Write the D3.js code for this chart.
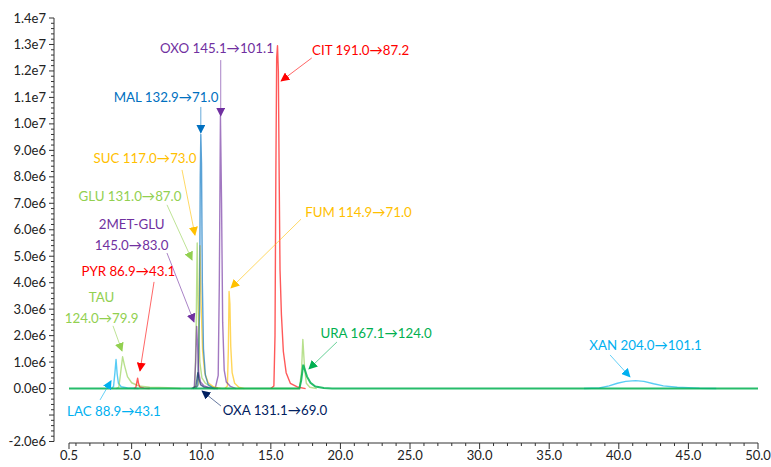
<!DOCTYPE html>
<html><head><meta charset="utf-8">
<script src="https://cdn.jsdelivr.net/npm/d3@7"></script>
<style>body{margin:0;background:#fff}svg{display:block}</style>
</head><body><svg id="c" width="771" height="467"></svg>
<script>
// ---- data: [retention time (min), intensity] ----
const lacData = [[3.55,0],[3.7,0.08e6],[3.8,0.6e6],[3.88,1.1e6],[3.96,0.55e6],[4.05,0.2e6],[4.25,0.07e6],[4.7,0.02e6],[5.5,0]];
const xanData = [[37.5,0],[38.6,0.02e6],[39.3,0.1e6],[39.9,0.2e6],[40.5,0.27e6],[41.2,0.3e6],[41.8,0.27e6],[42.5,0.18e6],[43.2,0.1e6],[44.2,0.05e6],[45.8,0.01e6],[47,0]];
const tauData = [[3.9,0],[4.08,0.05e6],[4.2,0.55e6],[4.35,1.2e6],[4.5,0.85e6],[4.7,0.45e6],[5.0,0.22e6],[5.5,0.1e6],[6.3,0.05e6],[7.6,0.03e6],[8.5,0]];
const pyrData = [[5.15,0],[5.3,0.04e6],[5.38,0.25e6],[5.43,0.39e6],[5.5,0.18e6],[5.6,0.05e6],[5.9,0.01e6],[6.3,0]];
const metData = [[9.3,0],[9.5,0.05e6],[9.6,1.0e6],[9.67,2.35e6],[9.74,1.6e6],[9.82,0.6e6],[9.95,0.25e6],[10.2,0.1e6],[10.6,0.03e6],[11,0]];
const oxaData = [[9.4,0],[9.62,0.08e6],[9.7,0.4e6],[9.76,0.6e6],[9.84,0.35e6],[9.95,0.15e6],[10.2,0.05e6],[10.7,0.01e6],[11.2,0]];
const gluData = [[9.35,0],[9.55,0.1e6],[9.64,2.5e6],[9.71,5.5e6],[9.78,3e6],[9.9,1e6],[10.05,0.4e6],[10.3,0.2e6],[10.6,0.1e6],[11,0.03e6],[11.5,0],[17.05,0],[17.2,0.6e6],[17.3,1.86e6],[17.42,0.8e6],[17.55,0.2e6],[17.8,0.05e6],[18.3,0]];
const sucData = [[9.55,0],[9.78,0.15e6],[9.85,3e6],[9.91,5.4e6],[9.99,3.2e6],[10.1,1.4e6],[10.25,0.6e6],[10.5,0.22e6],[10.9,0.06e6],[11.4,0]];
const malData = [[9.6,0],[9.75,0.1e6],[9.88,3e6],[9.93,8e6],[9.97,9.6e6],[10.02,8.5e6],[10.08,4e6],[10.16,1.5e6],[10.3,0.5e6],[10.5,0.15e6],[10.9,0]];
const oxoData = [[11.0,0],[11.22,0.5e6],[11.3,4e6],[11.38,10.3e6],[11.46,7e6],[11.54,2.5e6],[11.65,0.7e6],[11.8,0.25e6],[12.1,0.08e6],[12.5,0]];
const fumData = [[11.7,0],[11.88,0.1e6],[11.95,1.5e6],[12.0,3.67e6],[12.06,3.2e6],[12.12,1.6e6],[12.22,0.6e6],[12.4,0.2e6],[12.7,0.05e6],[13.1,0]];
const citData = [[15.0,0],[15.22,0.1e6],[15.3,2e6],[15.36,8e6],[15.42,12.5e6],[15.48,12.95e6],[15.54,12e6],[15.6,8e6],[15.66,4.5e6],[15.76,2.8e6],[15.9,1.4e6],[16.1,0.6e6],[16.4,0.2e6],[16.9,0.06e6],[17.5,0]];
const uraData = [[0.5,0],[17.05,0],[17.18,0.3e6],[17.33,0.9e6],[17.45,0.7e6],[17.6,0.45e6],[17.85,0.22e6],[18.2,0.08e6],[18.8,0.02e6],[19.4,0],[50,0]];

const xTickValues = [0.5,5,10,15,20,25,30,35,40,45,50];
const xTickLabels = ["0.5","5.0","10.0","15.0","20.0","25.0","30.0","35.0","40.0","45.0","50.0"];
const yTickValues = [-2e6,0,1e6,2e6,3e6,4e6,5e6,6e6,7e6,8e6,9e6,1e7,1.1e7,1.2e7,1.3e7,1.4e7];
const yTickLabels = ["-2.0e6","0.0e0","1.0e6","2.0e6","3.0e6","4.0e6","5.0e6","6.0e6","7.0e6","8.0e6","9.0e6","1.0e7","1.1e7","1.2e7","1.3e7","1.4e7"];

// annotations: label lines, label centre [rt, value], arrow from/to [rt, value]
const annNames = ["OXO","CIT","MAL","SUC","GLU","2MET","PYR","TAU","LAC","OXA","FUM","URA","XAN"];
const annText = [["OXO 145.1→101.1"],["CIT 191.0→87.2"],["MAL 132.9→71.0"],["SUC 117.0→73.0"],["GLU 131.0→87.0"],["2MET-GLU","145.0→83.0"],["PYR 86.9→43.1"],["TAU","124.0→79.9"],["LAC 88.9→43.1"],["OXA 131.1→69.0"],["FUM 114.9→71.0"],["URA 167.1→124.0"],["XAN 204.0→101.1"]];
const annPos = [[11.13,12.86e6],[21.45,12.79e6],[7.47,11.02e6],[5.96,8.71e6],[4.88,7.28e6],[5.0,5.82e6],[4.77,4.41e6],[2.84,3.06e6],[3.73,-0.85e6],[15.3,-0.81e6],[21.3,6.66e6],[22.56,2.10e6],[41.92,1.65e6]];
const annFrom = [[11.4,12.41e6],[17.94,12.49e6],[9.97,10.64e6],[8.62,8.26e6],[7.54,6.94e6],[7.54,5.12e6],[6.61,4.03e6],[3.66,2.37e6],[2.73,-0.43e6],[11.42,-0.66e6],[17.17,6.4e6],[19.75,1.76e6],[39.37,1.27e6]];
const annTo = [[11.4,10.3e6],[15.74,11.62e6],[9.97,9.66e6],[9.55,5.8e6],[9.34,4.86e6],[9.48,2.52e6],[5.6,0.67e6],[4.31,1.42e6],[3.52,0.29e6],[10.06,-0.09e6],[12.14,3.8e6],[17.74,0.74e6],[40.8,0.44e6]];

// ---- styles ----
const C = {red:"#FF0000",blue:"#0070C0",lblue:"#00B0F0",purple:"#7030A0",yellow:"#FFC000",lgreen:"#92D050",green:"#00B050",navy:"#002060"};
const series = [
  {d:xanData,c:C.lblue},{d:lacData,c:C.lblue},{d:tauData,c:C.lgreen},{d:pyrData,c:C.red},
  {d:citData,c:C.red},{d:fumData,c:C.yellow},{d:oxoData,c:C.purple},{d:gluData,c:C.lgreen},
  {d:sucData,c:C.yellow},{d:malData,c:C.blue},{d:metData,c:C.purple},{d:oxaData,c:C.navy}
];
const annColor = [C.purple,C.red,C.blue,C.yellow,C.lgreen,C.purple,C.red,C.lgreen,C.lblue,C.navy,C.yellow,C.green,C.lblue];

const svg = d3.select("#c");
const x = d3.scaleLinear().domain([0.5,50]).range([69,758]);
const y = d3.scaleLinear().domain([-2e6,1.4e7]).range([441.5,18]);
const FONT = "Lato, 'Open Sans', sans-serif";

// axes
const xAxis = svg.append("g").attr("transform","translate(0,443)");
xAxis.append("line").attr("x1",x(0.5)).attr("x2",x(50)).attr("stroke","#333");
const xMinor = d3.range(1,50).filter(v=>v%5!==0);
xAxis.selectAll(".xm").data(xMinor).join("line").attr("x1",d=>x(d)).attr("x2",d=>x(d)).attr("y1",0).attr("y2",3).attr("stroke","#333");
xAxis.selectAll(".xM").data(xTickValues).join("line").attr("x1",d=>x(d)).attr("x2",d=>x(d)).attr("y1",0).attr("y2",6).attr("stroke","#333");
xAxis.selectAll("text").data(xTickValues).join("text").attr("x",d=>x(d)).attr("y",17)
  .attr("text-anchor","middle").attr("font-family",FONT).attr("font-size",13).attr("fill","#222")
  .text((d,i)=>xTickLabels[i]);

const yAxis = svg.append("g").attr("transform","translate(54,0)");
yAxis.append("line").attr("y1",y(-2e6)).attr("y2",y(1.4e7)).attr("stroke","#333");
const yMinor = d3.range(-10,71).map(k=>k*2e5).filter(v=>Math.abs(v/1e6-Math.round(v/1e6))>1e-6);
yAxis.selectAll(".ym").data(yMinor).join("line").attr("y1",d=>y(d)).attr("y2",d=>y(d)).attr("x1",-3).attr("x2",0).attr("stroke","#333");
yAxis.selectAll(".yM").data(d3.range(-2,15).map(k=>k*1e6)).join("line").attr("y1",d=>y(d)).attr("y2",d=>y(d)).attr("x1",-5).attr("x2",0).attr("stroke","#333");
yAxis.selectAll("text").data(yTickValues).join("text").attr("x",-8).attr("y",d=>y(d)).attr("dy","0.35em")
  .attr("text-anchor","end").attr("font-family",FONT).attr("font-size",13).attr("fill","#222")
  .text((d,i)=>yTickLabels[i]);

// traces
const line = d3.line().x(d=>x(d[0])).y(d=>y(d[1]));
svg.append("g").selectAll("path").data(series).join("path")
  .attr("d",s=>line(s.d)).attr("fill","none").attr("stroke",s=>s.c).attr("stroke-width",1.4).attr("stroke-opacity",0.65).attr("stroke-linejoin","round");
svg.append("path").attr("d",line(uraData)).attr("fill","none").attr("stroke",C.green).attr("stroke-width",2).attr("stroke-opacity",0.85);

// arrow markers
const defs = svg.append("defs");
Object.entries(C).forEach(([k,v])=>{
  defs.append("marker").attr("id","ah-"+k).attr("viewBox","0 0 10 10").attr("refX",9).attr("refY",5)
    .attr("markerWidth",9).attr("markerHeight",9).attr("markerUnits","userSpaceOnUse").attr("orient","auto")
    .append("path").attr("d","M0,0L10,5L0,10Z").attr("fill",v);
});
const colorKey = c=>Object.keys(C).find(k=>C[k]===c);

const ann = svg.append("g");
annNames.forEach((n,i)=>{
  const col = annColor[i];
  ann.append("line").attr("x1",x(annFrom[i][0])).attr("y1",y(annFrom[i][1]))
    .attr("x2",x(annTo[i][0])).attr("y2",y(annTo[i][1]))
    .attr("stroke",col).attr("stroke-opacity",0.6).attr("stroke-width",1)
    .attr("marker-end","url(#ah-"+colorKey(col)+")");
  const lines = annText[i];
  const t = ann.append("text").attr("font-family",FONT).attr("font-size",13.3).attr("fill",col).attr("text-anchor","middle");
  lines.forEach((s,j)=>{
    t.append("tspan").attr("x",x(annPos[i][0])).attr("y",y(annPos[i][1]) + (j - (lines.length-1)/2)*21).attr("dy","0.35em").text(s);
  });
});
</script></body></html>
